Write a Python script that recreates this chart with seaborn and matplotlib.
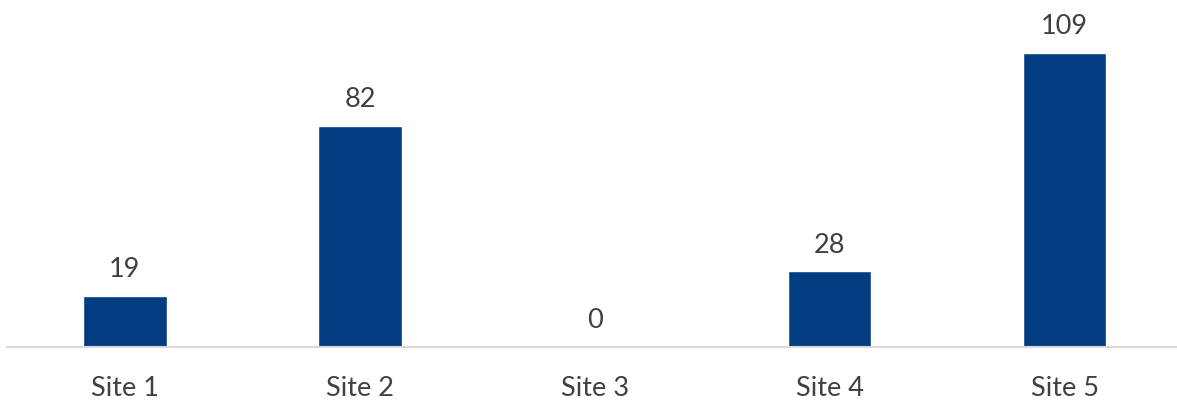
import numpy as np
import pandas as pd
import matplotlib
matplotlib.use('Agg')
import matplotlib.pyplot as plt
import seaborn as sns

sites = ['Site 1', 'Site 2', 'Site 3', 'Site 4', 'Site 5']
counts = [19, 82, 0, 28, 109]

BAR_COLOR = '#033D82'
TEXT_COLOR = '#404040'

sns.set_style('white')
plt.rcParams['font.family'] = ['Lato', 'DejaVu Sans']

df = pd.DataFrame({'site': sites, 'count': counts})

fig = plt.figure(figsize=(11.77, 4.05), dpi=100)
ax = fig.add_axes([7 / 1177, 58 / 405, 1 - 7 / 1177, 347 / 405])
sns.barplot(data=df, x='site', y='count', color=BAR_COLOR, width=0.355,
            saturation=1, ax=ax)

# Value labels above each bar
for container in ax.containers:
    ax.bar_label(container, labels=[str(c) for c in counts], padding=10,
                 fontsize=19.5, color=TEXT_COLOR)

ax.set_ylim(0, 128.5)
ax.set_xlim(-0.502, 4.478)
ax.set_xlabel('')
ax.set_ylabel('')
ax.set_yticks([])
for side in ['top', 'right', 'left']:
    ax.spines[side].set_visible(False)
ax.spines['bottom'].set_color('#D9D9D9')
ax.spines['bottom'].set_linewidth(1.5)
ax.tick_params(axis='x', length=0, pad=21, labelsize=19.5, labelcolor=TEXT_COLOR)

fig.savefig('out.png', dpi=100)
